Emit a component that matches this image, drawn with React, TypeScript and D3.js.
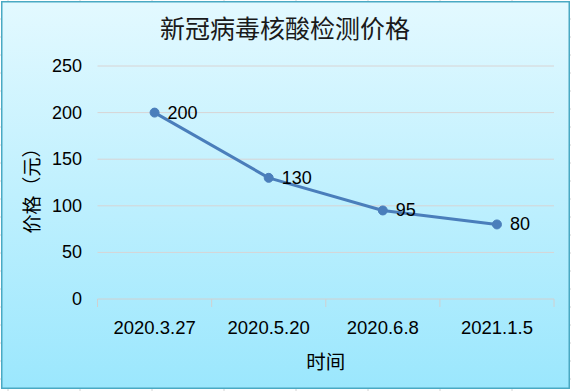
import React from "react";
import * as d3 from "d3";

const categories = ["2020.3.27", "2020.5.20", "2020.6.8", "2021.1.5"];
const prices = [200, 130, 95, 80];
const yTicks = [0, 50, 100, 150, 200, 250];
const title = "新冠病毒核酸检测价格";
const xTitle = "时间";
const yTitle = "价格（元）";

const W = 571;
const H = 391;
const latin = "'Liberation Sans', Arial, sans-serif";
const cjk = "'Noto Sans CJK SC', 'Noto Sans', sans-serif";

export default function App() {
  const x = d3.scaleBand<string>().domain(categories).range([97.5, 554]).padding(0);
  const y = d3.scaleLinear().domain([0, 250]).range([299, 66]);
  const cx = (c: string) => (x(c) as number) + x.bandwidth() / 2;
  const line = d3
    .line<number>()
    .x((_, i) => cx(categories[i]))
    .y((d) => y(d));

  const sheetV = d3.range(8, W, 72);
  const sheetH = d3.range(19, H, 18);
  const bounds = [...categories.map((c) => x(c) as number), 554];

  return (
    <svg
      width={W}
      height={H}
      style={{ position: "absolute", left: 0, top: 0, display: "block" }}
    >
      <defs>
        <linearGradient id="bg" x1="0" y1="0" x2="0" y2="1">
          <stop offset="0" stopColor="#e3f9ff" />
          <stop offset="1" stopColor="#9be7fd" />
        </linearGradient>
      </defs>
      <rect x={0} y={0} width={W} height={H} fill="#ffffff" />
      {sheetV.map((v) => (
        <line key={"v" + v} x1={v} x2={v} y1={0} y2={H} stroke="#d4d4d4" strokeWidth={1} />
      ))}
      {sheetH.map((v) => (
        <line key={"h" + v} x1={0} x2={W} y1={v} y2={v} stroke="#d4d4d4" strokeWidth={1} />
      ))}
      <rect
        x={1.75}
        y={1.75}
        width={567.5}
        height={386.5}
        fill="url(#bg)"
        stroke="#4aa9c3"
        strokeWidth={1.5}
      />
      <text
        x={285}
        y={27}
        textAnchor="middle"
        dominantBaseline="central"
        fontFamily={cjk}
        fontSize={25}
        fill="#1a1a1a"
      >
        {title}
      </text>
      {yTicks.map((t) => (
        <g key={t}>
          {t > 0 && (
            <line x1={97.5} x2={554} y1={y(t)} y2={y(t)} stroke="#d8d4d4" strokeWidth={1} />
          )}
          <text
            x={82}
            y={y(t)}
            textAnchor="end"
            dominantBaseline="central"
            fontFamily={latin}
            fontSize={18}
            fill="#000"
          >
            {t}
          </text>
        </g>
      ))}
      <line x1={97.5} x2={554} y1={y(0)} y2={y(0)} stroke="#d0d0d0" strokeWidth={1} />
      {bounds.map((b, i) => (
        <line key={i} x1={b} x2={b} y1={y(0)} y2={y(0) + 8} stroke="#d0d0d0" strokeWidth={1} />
      ))}
      {categories.map((c) => (
        <text
          key={c}
          x={cx(c)}
          y={327}
          textAnchor="middle"
          dominantBaseline="central"
          fontFamily={latin}
          fontSize={18.5}
          fill="#000"
        >
          {c}
        </text>
      ))}
      <text
        x={325.75}
        y={360}
        textAnchor="middle"
        dominantBaseline="central"
        fontFamily={cjk}
        fontSize={19.5}
        fill="#000"
      >
        {xTitle}
      </text>
      <text
        transform={`translate(30,186) rotate(-90)`}
        textAnchor="middle"
        dominantBaseline="central"
        fontFamily={cjk}
        fontSize={19}
        fill="#000"
      >
        {yTitle}
      </text>
      <path d={line(prices) || ""} fill="none" stroke="#4a7ebb" strokeWidth={3} strokeLinejoin="round" />
      {prices.map((p, i) => (
        <circle key={i} cx={cx(categories[i])} cy={y(p)} r={4.5} fill="#4a7ebb" stroke="#4a7ebb" />
      ))}
      {prices.map((p, i) => (
        <text
          key={"l" + i}
          x={cx(categories[i]) + 13}
          y={y(p)}
          dominantBaseline="central"
          fontFamily={latin}
          fontSize={18}
          fill="#000"
        >
          {p}
        </text>
      ))}
    </svg>
  );
}
